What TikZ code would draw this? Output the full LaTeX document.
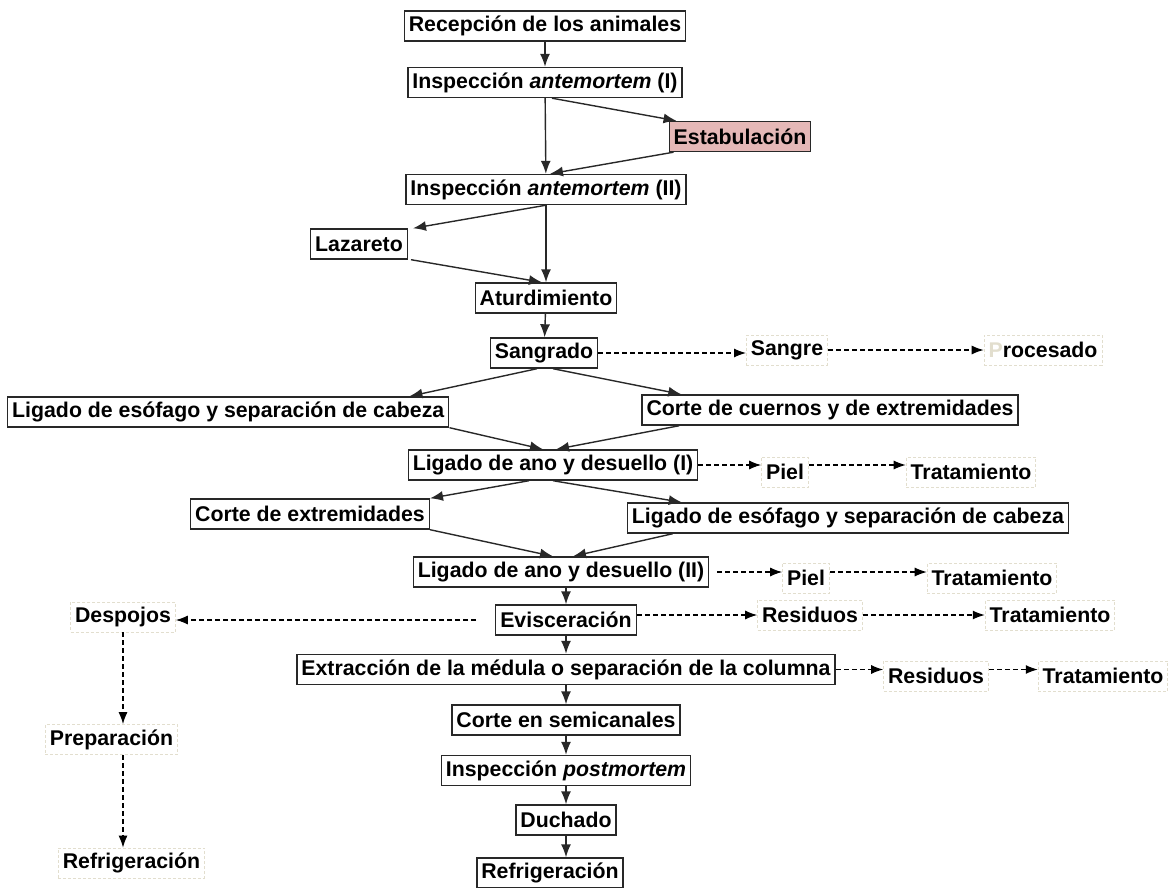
\documentclass[tikz,border=0pt]{standalone}
\usepackage{fontspec}
\setmainfont{Liberation Sans}
\usetikzlibrary{arrows.meta,calc}

\definecolor{establo}{RGB}{229,184,183}
\definecolor{tenue}{RGB}{226,222,206}
\definecolor{trazo}{RGB}{40,40,40}

\tikzset{
  paso/.style={draw=trazo, line width=1.4pt, inner xsep=4.5pt, inner ysep=0pt,
    minimum height=30pt, font=\fontsize{21.3}{24}\selectfont\bfseries},
  resto/.style={paso, draw=tenue, line width=0.8pt, dash pattern=on 3pt off 2pt},
  flujo/.style={-{Latex[length=13pt,width=10pt]}, color=trazo, line width=1.4pt},
  lateral/.style={-{Latex[length=12pt,width=9pt]}, color=black, line width=1.1pt,
    dash pattern=on 5pt off 3pt},
}

\begin{document}
\begin{tikzpicture}[x=1pt,y=-1pt]
    \useasboundingbox (0,0) rectangle (1169,888);

    % columna principal
    \node[paso] (recep)   at (545,26)    {Recepción de los animales};
    \node[paso] (insp1)   at (545,82.5)  {Inspección \textit{antemortem} (I)};
    \node[paso, fill=establo] (estab) at (740,136.5) {Estabulación};
    \node[paso] (insp2)   at (546,189.5) {Inspección \textit{antemortem} (II)};
    \node[paso] (laz)     at (359,244)   {Lazareto};
    \node[paso] (atur)    at (546,298)   {Aturdimiento};
    \node[paso] (sang)    at (544,353)   {Sangrado};
    \node[paso, anchor=west] (ligIzq) at (7,412) {Ligado de esófago y separación de cabeza};
    \node[paso] (corte)   at (830,410)   {Corte de cuernos y de extremidades};
    \node[paso] (ligAno1) at (553,465)   {Ligado de ano y desuello (I)};
    \node[paso] (corteExt) at (310,514)  {Corte de extremidades};
    \node[paso] (ligDer)  at (848,518)   {Ligado de esófago y separación de cabeza};
    \node[paso] (ligAno2) at (561,572)   {Ligado de ano y desuello (II)};
    \node[paso] (evisc)   at (566,620)   {Evisceración};
    \node[paso] (extr)    at (566,669.5) {Extracción de la médula o separación de la columna};
    \node[paso] (semi)    at (566,720)   {Corte en semicanales};
    \node[paso] (postm)   at (566,770.5) {Inspección \textit{postmortem}};
    \node[paso] (duch)    at (566,820)   {Duchado};
    \node[paso] (refr)    at (550,873)   {Refrigeración};

    % subproductos
    \node[resto] (sangre)  at (787,350)   {Sangre};
    \node[resto] (proces)  at (1043,350)  {{\color{tenue}P}rocesado};
    \node[resto] (piel1)   at (785,472)   {Piel};
    \node[resto] (trat1)   at (971,472)   {Tratamiento};
    \node[resto] (piel2)   at (806,578)   {Piel};
    \node[resto] (trat2)   at (992,578)   {Tratamiento};
    \node[resto] (resid1)  at (810,615)   {Residuos};
    \node[resto] (trat3)   at (1050,615)  {Tratamiento};
    \node[resto] (resid2)  at (936,676)   {Residuos};
    \node[resto] (trat4)   at (1103,676)  {Tratamiento};
    \node[resto] (desp)    at (123,617)   {Despojos};
    \node[resto] (prep)    at (111.5,739.5) {Preparación};
    \node[resto] (refrIzq) at (131.5,863) {Refrigeración};

    \coordinate (salida) at ([xshift=-19pt]evisc.west);

    \path[flujo]
    (recep) edge (insp1)
    (insp1) edge (insp2)
    ([xshift=7pt]insp1.south) edge ([xshift=8pt]estab.north west)
    ([xshift=5pt]estab.south west) edge ([xshift=4pt]insp2.north)
    (insp2.south) edge ([xshift=5pt]laz.north east)
    (insp2.south -| atur.north) edge (atur.north)
    ([xshift=3pt]laz.south east) edge ([xshift=-4pt]atur.north)
    (atur) edge (sang)
    ([xshift=-7pt]sang.south) edge ([xshift=-40pt]ligIzq.north east)
    ([xshift=9pt]sang.south) edge ([xshift=40pt]corte.north west)
    (ligIzq.south east) edge ([xshift=-10pt]ligAno1.north)
    ([xshift=38pt]corte.south west) edge ([xshift=3pt]ligAno1.north)
    ([xshift=-24pt]ligAno1.south) edge (corteExt.north east)
    (ligAno1.south) edge ([xshift=55pt]ligDer.north west)
    (corteExt.south east) edge ([xshift=-8pt]ligAno2.north)
    ([xshift=46pt]ligDer.south west) edge ([xshift=12pt]ligAno2.north)
    (ligAno2.south -| evisc.north) edge (evisc.north)
    (evisc) edge (extr)
    (extr) edge (semi)
    (semi) edge (postm)
    (postm) edge (duch)
    (duch.south) edge (duch.south |- refr.north)
    ;

    \path[lateral]
    (sang.east) edge (sang.east -| sangre.west)
    (sangre.east) edge (proces.west)
    (ligAno1.east) edge (ligAno1.east -| piel1.west)
    (piel1.east |- ligAno1.east) edge (trat1.west |- ligAno1.east)
    ([xshift=8pt]ligAno2.east) edge (ligAno2.east -| piel2.west)
    (piel2.east |- ligAno2.east) edge (trat2.west |- ligAno2.east)
    (evisc.east |- resid1.west) edge (resid1.west)
    (resid1.east) edge (trat3.west)
    (salida) edge (salida -| desp.east)
    (extr.east) edge (extr.east -| resid2.west)
    (resid2.east |- extr.east) edge (trat4.west |- extr.east)
    (desp.south) edge (desp.south |- prep.north)
    (desp.south |- prep.south) edge (desp.south |- refrIzq.north)
    ;
\end{tikzpicture}
\end{document}
